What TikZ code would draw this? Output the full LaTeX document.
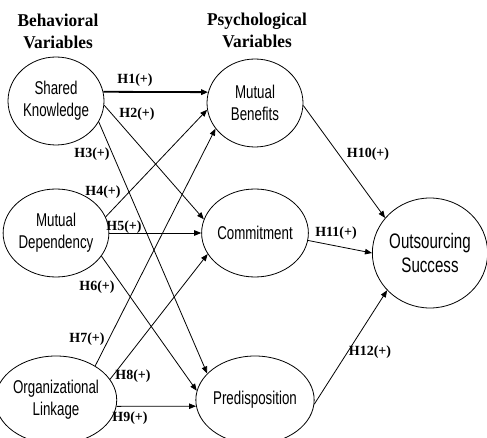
\documentclass[tikz,border=0pt]{standalone}
\usepackage{fontspec}
\setmainfont{Liberation Serif}
\setsansfont{Liberation Sans}
\newfontfamily\varfont[FakeStretch=0.72]{Liberation Sans}
\newfontfamily\headfont[FakeStretch=0.96]{Liberation Serif}
\usepackage{tikz}
\usetikzlibrary{arrows.meta,shapes.geometric}

\begin{document}
\begin{tikzpicture}[x=1pt,y=-1pt,>={Triangle[length=7pt,width=5.5pt]},
  var/.style={ellipse,draw,line width=0.8pt,inner sep=0pt,minimum width=96pt,minimum height=88pt,align=center,font=\varfont\fontsize{18.5}{22}\selectfont},
  hyp/.style={font=\bfseries\fontsize{14}{16}\selectfont,inner sep=0pt},
  head/.style={align=center,font=\headfont\bfseries\fontsize{18}{22}\selectfont,inner sep=0pt},
  link/.style={->,line width=0.8pt}]
  \useasboundingbox (0,0) rectangle (487,438);
  \node[head] (hb) at (58,31) {Behavioral\\Variables};
  \node[head] (hp) at (257,30) {Psychological\\Variables};
  \node[var] (sk) at (56,101) {Shared\\Knowledge};
  \node[var] (md) at (56,233) {Mutual\\Dependency};
  \node[var] (ol) at (56,400) {Organizational\\Linkage};
  \node[var] (mb) at (255,103) {Mutual\\Benefits};
  \node[var] (cm) at (255,233) {Commitment};
  \node[var] (pd) at (255,400) {Predisposition};
  \node[var,minimum width=114pt,minimum height=110pt,font=\varfont\fontsize{21}{24}\selectfont] (os) at (430,253) {Outsourcing\\Success};
  \draw[link,line width=1.8pt] (sk.11) -- (mb.167);
  \draw[link] (sk.-5) -- (cm.165);
  \draw[link] (sk.-26) -- (pd.151);
  \draw[link] (md.18) -- (mb.-172);
  \draw[link] (md.east) -- (cm.west);
  \draw[link] (md.-27) -- (pd.171);
  \draw[link] (ol.41) -- (mb.-147);
  \draw[link] (ol.21) -- (cm.-156);
  \draw[link] (ol.-6) -- (pd.-174);
  \draw[link] (mb.-3) -- (os.142);
  \draw[link] (cm.-8) -- (os.180);
  \draw[link] (pd.-4) -- (os.-139);
  \node[hyp] (h1) at (135,80) {H1(+)};
  \node[hyp] (h2) at (137,114) {H2(+)};
  \node[hyp] (h3) at (92,154) {H3(+)};
  \node[hyp] (h4) at (103,192) {H4(+)};
  \node[hyp] (h5) at (124,227) {H5(+)};
  \node[hyp] (h6) at (97,287) {H6(+)};
  \node[hyp] (h7) at (87,339) {H7(+)};
  \node[hyp] (h8) at (133,376) {H8(+)};
  \node[hyp] (h9) at (130,418) {H9(+)};
  \node[hyp] (h10) at (368,154) {H10(+)};
  \node[hyp] (h11) at (336,233) {H11(+)};
  \node[hyp] (h12) at (370,352) {H12(+)};
\end{tikzpicture}
\end{document}
